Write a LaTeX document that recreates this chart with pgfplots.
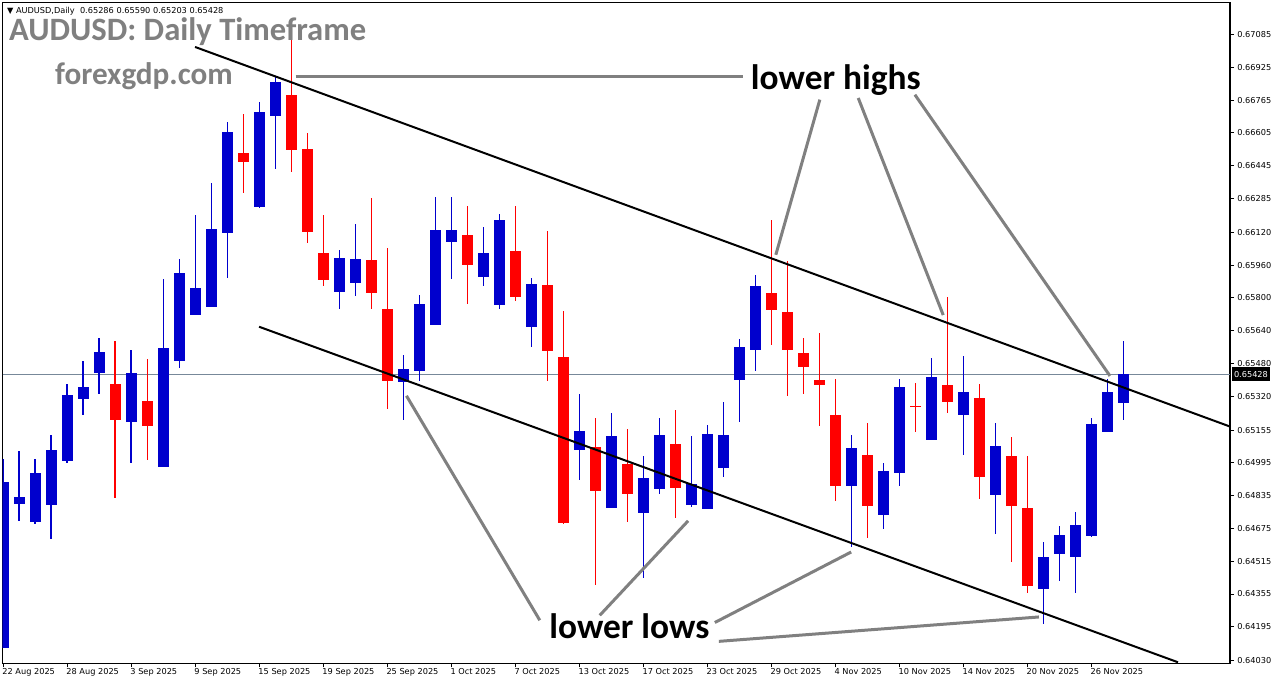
\documentclass[border=0pt]{standalone}
\usepackage{pgfplots}
\pgfplotsset{compat=1.18}
\usepackage{pgfplotstable}
\usepackage{fontspec}
\setmainfont{DejaVu Sans}
\newfontfamily\carlito{Carlito}
\definecolor{bull}{RGB}{0,0,205}
\definecolor{bear}{RGB}{255,0,0}
\definecolor{anno}{RGB}{128,128,128}
\definecolor{pline}{RGB}{119,136,153}
\newcommand{\tickfont}{\fontsize{4.1}{5}\selectfont}

% bullish candles (index, open, high, low, close)
\pgfplotstableread{
i O H L C
0 0.64095 0.65013 0.64090 0.64901
1 0.64795 0.65052 0.64712 0.64828
2 0.64707 0.65013 0.64696 0.64945
3 0.64789 0.65130 0.64623 0.65057
4 0.65004 0.65380 0.64994 0.65326
5 0.65308 0.65492 0.65230 0.65365
6 0.65433 0.65604 0.65332 0.65536
8 0.65195 0.65546 0.64995 0.65433
10 0.64976 0.65892 0.64974 0.65555
11 0.65493 0.65990 0.65459 0.65922
12 0.65718 0.66205 0.65716 0.65848
13 0.65757 0.66363 0.65755 0.66137
14 0.66116 0.66659 0.65899 0.66610
16 0.66243 0.66757 0.66241 0.66708
17 0.66690 0.66884 0.66431 0.66854
21 0.65830 0.66034 0.65746 0.65995
22 0.65874 0.66161 0.65811 0.65990
25 0.65391 0.65521 0.65205 0.65453
26 0.65444 0.65814 0.65396 0.65770
27 0.65668 0.66293 0.65666 0.66132
28 0.66075 0.66293 0.65892 0.66132
30 0.65904 0.66146 0.65858 0.66019
31 0.65767 0.66210 0.65747 0.66181
33 0.65659 0.65897 0.65562 0.65868
36 0.65059 0.65331 0.64911 0.65150
38 0.64775 0.65238 0.64773 0.65126
40 0.64751 0.65028 0.64433 0.64920
41 0.64868 0.65214 0.64844 0.65130
43 0.64790 0.65126 0.64780 0.64891
44 0.64770 0.65179 0.64768 0.65135
45 0.64971 0.65292 0.64927 0.65130
46 0.65400 0.65599 0.65194 0.65560
47 0.65547 0.65912 0.65443 0.65858
53 0.64883 0.65130 0.64585 0.65067
55 0.64741 0.64994 0.64671 0.64955
56 0.64946 0.65404 0.64883 0.65365
58 0.65107 0.65507 0.65105 0.65414
60 0.65230 0.65516 0.65034 0.65340
62 0.64839 0.65189 0.64648 0.65077
65 0.64380 0.64608 0.64209 0.64535
66 0.64551 0.64686 0.64419 0.64642
67 0.64536 0.64759 0.64360 0.64691
68 0.64639 0.65214 0.64634 0.65184
69 0.65147 0.65404 0.65145 0.65340
70 0.65286 0.65590 0.65203 0.65428
}\bulldata

% bearish candles (index, open, high, low, close)
\pgfplotstableread{
i O H L C
7 0.65380 0.65590 0.64824 0.65205
9 0.65297 0.65502 0.65010 0.65176
15 0.66506 0.66698 0.66311 0.66465
18 0.66791 0.67079 0.66412 0.66524
19 0.66527 0.66604 0.66070 0.66123
20 0.66019 0.66205 0.65860 0.65889
23 0.65985 0.66288 0.65746 0.65825
24 0.65746 0.66044 0.65259 0.65396
29 0.66107 0.66249 0.65772 0.65962
32 0.66029 0.66249 0.65786 0.65806
34 0.65863 0.66127 0.65396 0.65542
35 0.65511 0.65736 0.64697 0.64702
37 0.65072 0.65214 0.64399 0.64858
39 0.64989 0.65160 0.64707 0.64844
42 0.65086 0.65253 0.64727 0.64873
48 0.65824 0.66181 0.65571 0.65742
49 0.65731 0.65980 0.65322 0.65547
50 0.65531 0.65604 0.65332 0.65464
51 0.65399 0.65629 0.65176 0.65376
52 0.65228 0.65404 0.64810 0.64883
54 0.65033 0.65189 0.64629 0.64785
57 0.65274 0.65384 0.65147 0.65266
59 0.65375 0.65805 0.65239 0.65293
61 0.65311 0.65380 0.64819 0.64927
63 0.65028 0.65121 0.64512 0.64785
64 0.64774 0.65028 0.64360 0.64394
}\beardata

\begin{document}
\begin{tikzpicture}
\useasboundingbox (-1.35pt,-10.35pt) rectangle (636.65pt,331.65pt);
\begin{axis}[
  at={(0pt,0pt)}, anchor=south west,
  scale only axis, width=613.65pt, height=330.3pt,
  xmin=-0.02, xmax=76.67, ymin=0.64017, ymax=0.67240,
  axis line style={black, line width=0.6pt},
  xtick={0,4,...,68},
  xticklabels={22 Aug 2025,28 Aug 2025,3 Sep 2025,9 Sep 2025,15 Sep 2025,19 Sep 2025,25 Sep 2025,1 Oct 2025,7 Oct 2025,13 Oct 2025,17 Oct 2025,23 Oct 2025,29 Oct 2025,4 Nov 2025,10 Nov 2025,14 Nov 2025,20 Nov 2025,26 Nov 2025},
  ytick={0.64030,0.64195,0.64355,0.64515,0.64675,0.64835,0.64995,0.65155,0.65320,0.65480,0.65640,0.65800,0.65960,0.66120,0.66285,0.66445,0.66605,0.66765,0.66925,0.67085},
  yticklabels={0.64030,0.64195,0.64355,0.64515,0.64675,0.64835,0.64995,0.65155,0.65320,0.65480,0.65640,0.65800,0.65960,0.66120,0.66285,0.66445,0.66605,0.66765,0.66925,0.67085},
  xtick pos=bottom, ytick pos=right, yticklabel pos=right,
  tick align=outside, major tick length=2pt,
  tick style={black, line width=0.5pt},
  ticklabel style={font=\tickfont, text=black},
  xticklabel style={anchor=north west, inner sep=0pt, xshift=-0.5pt, yshift=-0.6pt},
  yticklabel style={anchor=west, inner sep=0pt, xshift=1.5pt},
  clip=true,
]
% current price line
\addplot[pline, line width=0.5pt, forget plot] coordinates {(-0.02,0.65428) (76.67,0.65428)};

% wicks
\addplot[draw=none, mark=none, forget plot,
  error bars/.cd, y dir=both, y explicit, error mark=none,
  error bar style={draw=bull, line width=0.55pt}]
  table[x=i, y expr={(\thisrow{H}+\thisrow{L})/2}, y error expr={(\thisrow{H}-\thisrow{L})/2}] {\bulldata};
\addplot[draw=none, mark=none, forget plot,
  error bars/.cd, y dir=both, y explicit, error mark=none,
  error bar style={draw=bear, line width=0.55pt}]
  table[x=i, y expr={(\thisrow{H}+\thisrow{L})/2}, y error expr={(\thisrow{H}-\thisrow{L})/2}] {\beardata};
% bodies
\addplot[draw=none, mark=none, forget plot,
  error bars/.cd, y dir=both, y explicit, error mark=none,
  error bar style={draw=bull, line width=5.5pt, line cap=butt}]
  table[x=i, y expr={(\thisrow{O}+\thisrow{C})/2}, y error expr={abs(\thisrow{C}-\thisrow{O})/2+0.000005}] {\bulldata};
\addplot[draw=none, mark=none, forget plot,
  error bars/.cd, y dir=both, y explicit, error mark=none,
  error bar style={draw=bear, line width=5.5pt, line cap=butt}]
  table[x=i, y expr={(\thisrow{O}+\thisrow{C})/2}, y error expr={abs(\thisrow{C}-\thisrow{O})/2+0.000005}] {\beardata};

% channel lines
\addplot[black, line width=1pt, forget plot] coordinates {(12.0,0.67024) (76.67,0.65172)};
\addplot[black, line width=1pt, forget plot] coordinates {(16.0,0.65659) (73.42,0.64022)};

% annotation lines
\addplot[anno, line width=1.5pt, forget plot] coordinates {(18.29,0.66878) (46.23,0.66878)};
\addplot[anno, line width=1.5pt, forget plot] coordinates {(51.04,0.66767) (48.29,0.66010)};
\addplot[anno, line width=1.5pt, forget plot] coordinates {(53.44,0.66775) (58.75,0.65716)};
\addplot[anno, line width=1.5pt, forget plot] coordinates {(56.98,0.66791) (69.17,0.65419)};
\addplot[anno, line width=1.5pt, forget plot] coordinates {(25.21,0.65322) (33.54,0.64227)};
\addplot[anno, line width=1.5pt, forget plot] coordinates {(37.29,0.64251) (42.81,0.64712)};
\addplot[anno, line width=1.5pt, forget plot] coordinates {(44.48,0.64216) (53.00,0.64560)};
\addplot[anno, line width=1.5pt, forget plot] coordinates {(44.73,0.64124) (64.73,0.64243)};

% texts
\node[anchor=base west, inner sep=0pt, font=\tickfont] at (axis cs:0.23,0.67187) {▼ AUDUSD,Daily\ \ 0.65286 0.65590 0.65203 0.65428};
\node[anchor=base west, inner sep=0pt, text=anno, font=\carlito\bfseries\fontsize{16.3}{18}\selectfont] at (axis cs:0.356,0.67056) {AUDUSD: Daily Timeframe};
\node[anchor=base west, inner sep=0pt, text=anno, font=\carlito\bfseries\fontsize{15.6}{18}\selectfont] at (axis cs:3.23,0.66840) {forexgdp.com};
\node[anchor=base west, inner sep=0pt, text=black, font=\carlito\bfseries\fontsize{17.7}{20}\selectfont] at (axis cs:46.71,0.66815) {lower highs};
\node[anchor=base west, inner sep=0pt, text=black, font=\carlito\bfseries\fontsize{17.7}{20}\selectfont] at (axis cs:34.11,0.64137) {lower lows};

\coordinate (cp) at (axis cs:76.67,0.65428);
\end{axis}
\node[fill=black, text=white, anchor=west, inner xsep=1pt, inner ysep=0pt, minimum height=7pt, font=\tickfont, xshift=0.8pt] at (cp) {0.65428};
\end{tikzpicture}
\end{document}
